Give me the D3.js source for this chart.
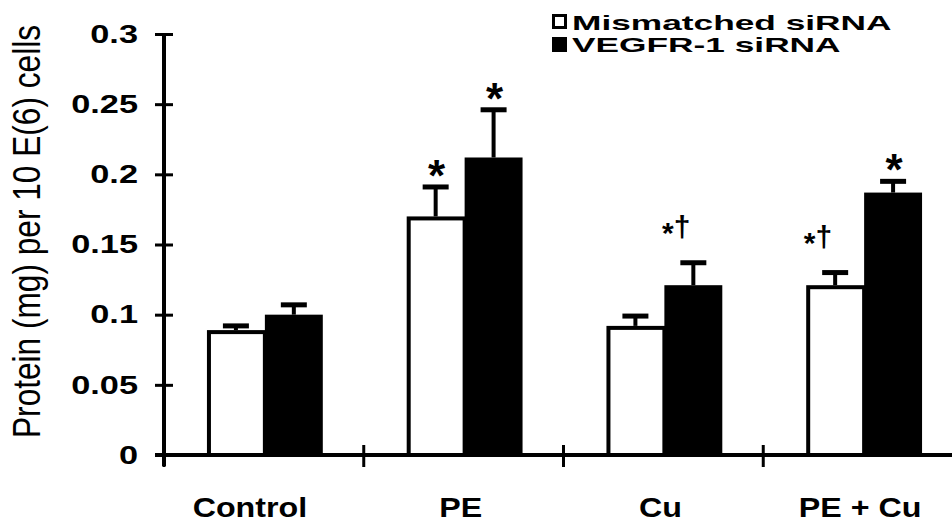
<!DOCTYPE html>
<html>
<head>
<meta charset="utf-8">
<script src="https://cdn.jsdelivr.net/npm/d3@7"></script>
<style>
  body { margin: 0; background: #fff; }
  text { font-family: "Liberation Sans", Arial, sans-serif; fill: #000; }
</style>
</head>
<body>
<div id="chart"></div>
<script>
// data
const categories = ["Control", "PE", "Cu", "PE + Cu"];
const seriesNames = ["Mismatched siRNA", "VEGFR-1 siRNA"];
const mismatchedMean = [0.089, 0.170, 0.092, 0.121];
const mismatchedErr = [0.003, 0.021, 0.007, 0.009];
const vegfrMean = [0.100, 0.212, 0.121, 0.187];
const vegfrErr = [0.007, 0.034, 0.016, 0.008];
const mismatchedMarks = ["", "*", "", "*†"];
const vegfrMarks = ["", "*", "*†", "*"];
const yTickValues = [0, 0.05, 0.1, 0.15, 0.2, 0.25, 0.3];
const yTickLabels = ["0", "0.05", "0.1", "0.15", "0.2", "0.25", "0.3"];
const yLabel = "Protein (mg) per 10 E(6) cells";

// rows for drawing
let arrRows = [];
categories.forEach((c, i) => {
  arrRows.push({ cat: c, series: seriesNames[0], mean: mismatchedMean[i], err: mismatchedErr[i], mark: mismatchedMarks[i] });
  arrRows.push({ cat: c, series: seriesNames[1], mean: vegfrMean[i], err: vegfrErr[i], mark: vegfrMarks[i] });
});

let svg = d3.select("#chart")
  .append("svg")
  .attr("width", 952)
  .attr("height", 525);

// the original figure is stretched horizontally, so text gets widened
function stretch(sel, k) {
  sel.each(function() {
    let w = this.getComputedTextLength();
    d3.select(this).attr("textLength", w * k).attr("lengthAdjust", "spacingAndGlyphs");
  });
}

// scales
let fnX = d3.scaleBand().domain(categories).range([164, 963]);
let bw = fnX.bandwidth();
let fnXInner = d3.scaleBand().domain(seriesNames).range([bw * 0.215, bw * 0.795]);
let fnY = d3.scaleLinear().domain([0, 0.3]).range([455, 34]);

// error bars (upper only)
let gErr = svg.append("g").attr("stroke", "#000");
arrRows.forEach(d => {
  let cx = fnX(d.cat) + fnXInner(d.series) + fnXInner.bandwidth() / 2;
  gErr.append("line")
    .attr("x1", cx).attr("x2", cx)
    .attr("y1", fnY(d.mean)).attr("y2", fnY(d.mean + d.err))
    .attr("stroke-width", 4);
  gErr.append("line")
    .attr("x1", cx - 13).attr("x2", cx + 13)
    .attr("y1", fnY(d.mean + d.err)).attr("y2", fnY(d.mean + d.err))
    .attr("stroke-width", 5);
});

// bars
svg.append("g").selectAll("rect")
  .data(arrRows)
  .enter()
  .append("rect")
  .attr("x", d => fnX(d.cat) + fnXInner(d.series) + (d.series === seriesNames[0] ? 2 : 0))
  .attr("y", d => fnY(d.mean) + (d.series === seriesNames[0] ? 2 : 0))
  .attr("width", d => fnXInner.bandwidth() - (d.series === seriesNames[0] ? 2 : 0))
  .attr("height", d => fnY(0) - fnY(d.mean) - (d.series === seriesNames[0] ? 2 : 0))
  .attr("fill", d => d.series === seriesNames[0] ? "#fff" : "#000")
  .attr("stroke", "#000")
  .attr("stroke-width", d => d.series === seriesNames[0] ? 4 : 0);

// significance marks
let gMarks = svg.append("g");
arrRows.filter(d => d.mark !== "").forEach(d => {
  let cx = fnX(d.cat) + fnXInner(d.series) + fnXInner.bandwidth() / 2;
  let yTop = fnY(d.mean + d.err);
  if (d.mark === "*") {
    gMarks.append("text")
      .attr("x", cx + 1)
      .attr("y", yTop + 4)
      .attr("text-anchor", "middle")
      .attr("font-size", 44)
      .attr("font-weight", "bold")
      .text("*");
  } else {
    let t = gMarks.append("text")
      .attr("x", cx - 3)
      .attr("y", yTop - 26)
      .attr("text-anchor", "end")
      .attr("font-size", 30)
      .attr("font-weight", "bold");
    t.append("tspan").attr("dy", 6).text("*");
    t.append("tspan").attr("dy", -6).text("†");
  }
});

// y axis
let gY = svg.append("g")
  .attr("transform", "translate(164,0)")
  .call(d3.axisLeft(fnY).tickValues(yTickValues).tickFormat((d, i) => yTickLabels[i]).tickSizeOuter(0));
gY.select(".domain").remove();
gY.selectAll(".tick line").attr("x1", 9).attr("x2", -9).attr("stroke", "#000").attr("stroke-width", 3);
gY.selectAll(".tick text")
  .attr("x", -26)
  .attr("font-size", 26)
  .attr("font-weight", "bold")
  .attr("font-family", null)
  .call(stretch, 1.32);
svg.append("line")
  .attr("x1", 164).attr("x2", 164)
  .attr("y1", fnY(0.3) - 1).attr("y2", 466)
  .attr("stroke", "#000").attr("stroke-width", 4);

// x axis
svg.append("line")
  .attr("x1", 155).attr("x2", 952)
  .attr("y1", fnY(0)).attr("y2", fnY(0))
  .attr("stroke", "#000").attr("stroke-width", 4);
categories.forEach(c => {
  svg.append("line")
    .attr("x1", fnX(c)).attr("x2", fnX(c))
    .attr("y1", fnY(0) - 10).attr("y2", fnY(0) + 12)
    .attr("stroke", "#000").attr("stroke-width", 3);
});
let gX = svg.append("g")
  .attr("transform", `translate(0,${fnY(0)})`)
  .call(d3.axisBottom(fnX).tickSize(0));
gX.select(".domain").remove();
gX.selectAll(".tick text")
  .attr("x", (d, i) => i === 0 ? -14 : -3)
  .attr("y", 62)
  .attr("dy", 0)
  .attr("font-size", 28)
  .attr("font-weight", "bold")
  .attr("font-family", null)
  .call(stretch, 1.15);

// y axis label
svg.append("text")
  .attr("transform", "translate(40,231.5) scale(1.25,1) rotate(-90)")
  .attr("text-anchor", "middle")
  .attr("font-size", 31)
  .text(yLabel)
  .attr("textLength", 413)
  .attr("lengthAdjust", "spacingAndGlyphs");

// legend
let gLeg = svg.append("g");
gLeg.append("rect")
  .attr("x", 553.5).attr("y", 15.5).attr("width", 12).attr("height", 12)
  .attr("fill", "#fff").attr("stroke", "#000").attr("stroke-width", 3);
gLeg.append("rect")
  .attr("x", 552).attr("y", 37).attr("width", 15).attr("height", 15)
  .attr("fill", "#000");
gLeg.selectAll("text")
  .data(seriesNames)
  .enter()
  .append("text")
  .attr("x", 572)
  .attr("y", (d, i) => 30 + i * 22)
  .attr("font-size", 21)
  .attr("font-weight", "bold")
  .text(d => d)
  .call(stretch, 1.68);
</script>
</body>
</html>
